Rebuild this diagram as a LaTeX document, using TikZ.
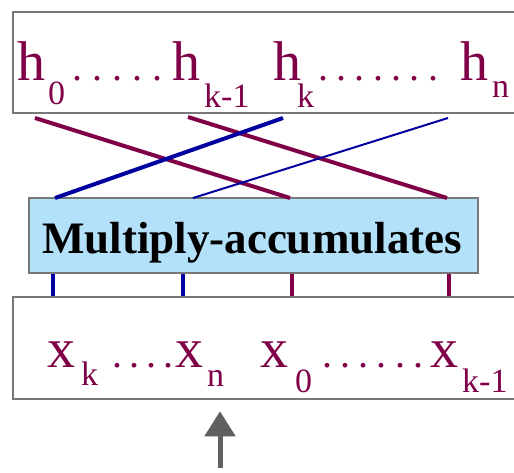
\documentclass[tikz,border=0pt]{standalone}
\usepackage{fontspec}
\setmainfont{Liberation Serif}
\usetikzlibrary{arrows.meta}
\definecolor{wine}{RGB}{128,0,72}
\definecolor{wireblue}{RGB}{0,0,160}
\definecolor{macfill}{RGB}{180,225,250}
\definecolor{frame}{RGB}{120,120,120}
\definecolor{feedgray}{RGB}{96,96,96}
\newcommand{\bigsym}{\fontsize{56}{60}\selectfont}
\newcommand{\subsym}{\fontsize{34}{36}\selectfont}
% base letter, gap, drop, index
\newcommand{\idx}[4]{#1\hspace{#2}\lower#3\hbox{\subsym #4}}
\newcommand{\dotrow}[2]{{\fontsize{40}{40}\selectfont\foreach \i in {1,...,#1}{\makebox[#2][c]{.}}}}

\begin{document}
\begin{tikzpicture}[x=1pt, y=-1pt, >=Stealth]
  \tikzset{
    reg/.style={draw=frame, line width=2.5pt, inner sep=0pt},
    mac/.style={draw=frame, line width=2pt, fill=macfill, inner sep=0pt},
    sym/.style={anchor=base west, inner sep=0pt, text=wine, font=\bigsym},
    dotbox/.style={anchor=base west, inner sep=0pt, text=wine},
    mline/.style={draw=wine, line width=4pt},
    bline/.style={draw=wireblue, line width=4pt},
    bthin/.style={draw=wireblue, line width=2pt},
    feed/.style={draw=feedgray, line width=5pt, -{Triangle[width=30pt,length=25pt]}}
  }
  \useasboundingbox (0,0) rectangle (514,472);
  % coefficient register
  \node[reg, minimum width=517pt, minimum height=101pt] (hreg) at (271.5,62.5) {};
  \node[sym] (h0) at (17,80) {\idx{h}{3pt}{24pt}{0}};
  \node[dotbox] (hd1) at (67,80) {\dotrow{5}{20pt}};
  \node[sym] (hk1) at (172,80) {\idx{h}{4pt}{27pt}{k-1}};
  \node[sym] (hk) at (273,80) {\idx{h}{-4pt}{27pt}{k}};
  \node[dotbox] (hd2) at (314,80) {\dotrow{7}{18.3pt}};
  \node[sym] (hn) at (460,80) {\idx{h}{4pt}{17pt}{n}};
  % multiply-accumulate block
  \node[mac, minimum width=449pt, minimum height=75pt] (mac) at (253.5,235.5) {};
  \node[anchor=base, inner sep=0pt, font=\fontsize{45}{48}\selectfont\bfseries] (macl) at (252,253) {Multiply-accumulates};
  % sample register
  \node[reg, minimum width=517pt, minimum height=102pt] (xreg) at (271.5,348) {};
  \node[sym] (xk) at (47,367) {\idx{x}{6pt}{18pt}{k}};
  \node[dotbox] (xd1) at (108.5,367) {\dotrow{4}{17pt}};
  \node[sym] (xn) at (175,367) {\idx{x}{4pt}{19pt}{n}};
  \node[sym] (x0) at (260,367) {\idx{x}{7pt}{25pt}{0}};
  \node[dotbox] (xd2) at (318,367) {\dotrow{6}{18.2pt}};
  \node[sym] (xk1) at (430,367) {\idx{x}{4pt}{25pt}{k-1}};
  % taps
  \coordinate (c1) at (35,118);
  \coordinate (c2) at (188,117);
  \coordinate (c3) at (283,118);
  \coordinate (c4) at (448,118);
  \foreach \n/\x in {u1/55,u2/193,u3/290,u4/447} \coordinate (\n) at (\x,198);
  \foreach \n/\x in {l1/53,l2/183,l3/292,l4/449} \coordinate (\n) at (\x,273);
  \draw[mline] (c1) -- (u3);
  \draw[mline] (c2) -- (u4);
  \draw[bline] (c3) -- (u1);
  \draw[bthin] (c4) -- (u2);
  \draw[bline] (l1 |- mac.south) -- (l1 |- xreg.north);
  \draw[bline] (l2 |- mac.south) -- (l2 |- xreg.north);
  \draw[mline] (l3 |- mac.south) -- (l3 |- xreg.north);
  \draw[mline] (l4 |- mac.south) -- (l4 |- xreg.north);
  % input
  \coordinate (in) at (220,468);
  \draw[feed] (in) -- ([yshift=-11pt]xreg.south -| in);
\end{tikzpicture}
\end{document}
